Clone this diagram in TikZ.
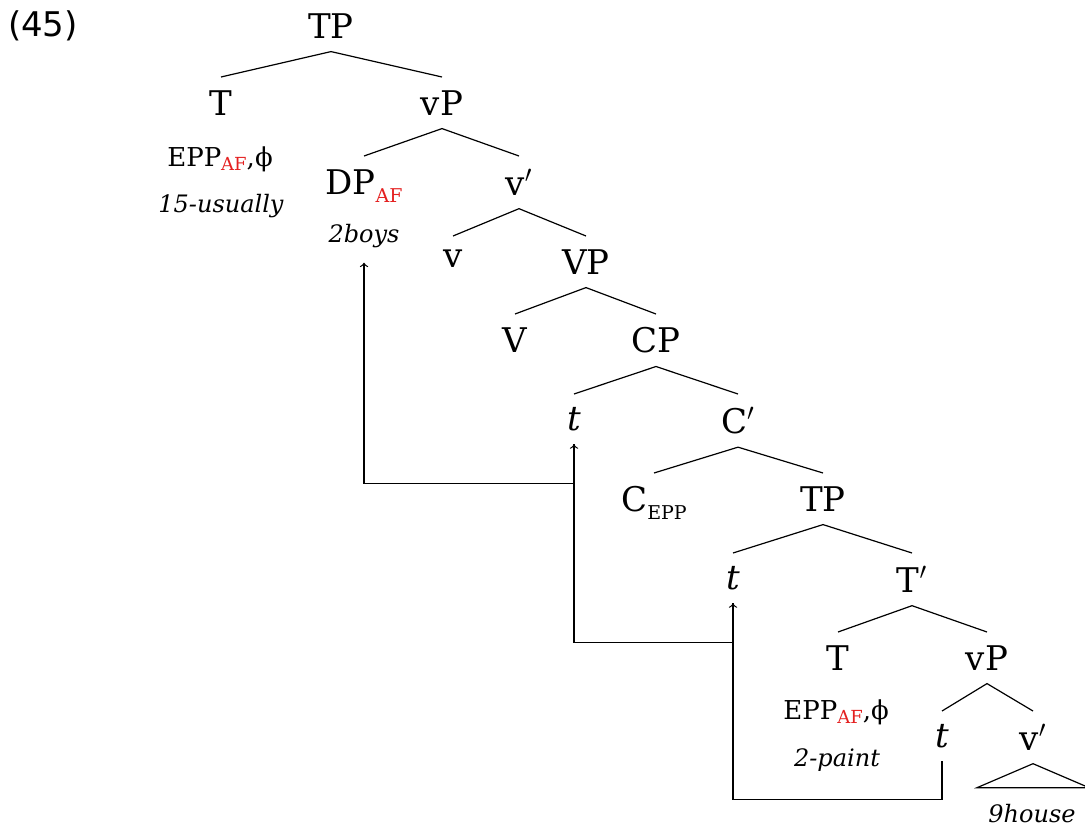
\documentclass[tikz,border=0pt]{standalone}
\usepackage{fontspec}
\usepackage{xcolor}
\setmainfont{DejaVu Serif}
\newfontfamily\exfont{DejaVu Sans}
\definecolor{afred}{RGB}{228,32,32}

% lowered labels on categories and on feature bundles
\newcommand{\catsub}[1]{\raisebox{-4pt}{\fontsize{9.5}{11}\selectfont #1}}
\newcommand{\featsub}[1]{\raisebox{-2pt}{\fontsize{9}{10}\selectfont #1}}
\newcommand{\agrAF}{\textcolor{afred}{AF}}

\tikzset{
  cat/.style={anchor=north, font=\fontsize{17}{20}\selectfont, inner xsep=0pt, inner ysep=6.5pt},
  feat/.style={anchor=base, font=\fontsize{13}{15}\selectfont, inner sep=0pt},
  gloss/.style={anchor=base, font=\fontsize{12}{14}\selectfont\itshape, inner xsep=0pt, inner ysep=7.5pt},
  branch/.style={line width=0.6pt},
  movement/.style={->, line width=0.6pt},
}

\begin{document}
\begin{tikzpicture}[x=0.5pt,y=-0.5pt]
  \useasboundingbox (0,0) rectangle (1085,829);
  \node[anchor=base, font=\exfont\fontsize{17}{20}\selectfont] (exnum) at (43,37) {(45)};

  % categories, level by level
  \node[cat] (tp) at (331,0) {TP};
  \node[cat] (thead) at (221,77) {T};
  \node[cat] (vp) at (442,77) {vP};
  \node[cat] (dp) at (364,156) {DP\catsub{\agrAF}};
  \node[cat] (vbar) at (519,156) {v$'$};
  \node[cat] (vhead) at (453,236) {v};
  \node[cat] (vpbig) at (586,236) {VP};
  \node[cat] (vbig) at (515,314) {V};
  \node[cat] (cp) at (656,314) {CP};
  \node[cat] (trace1) at (574,394) {\textit{t}};
  \node[cat] (cbar) at (738,394) {C$'$};
  \node[cat] (chead) at (654,473) {C\catsub{EPP}};
  \node[cat] (tp2) at (823,473) {TP};
  \node[cat] (trace2) at (733,553) {\textit{t}};
  \node[cat] (tbar) at (912,553) {T$'$};
  \node[cat] (thead2) at (838,632) {T};
  \node[cat] (vp2) at (987,632) {vP};
  \node[cat] (trace3) at (942,711) {\textit{t}};
  \node[cat] (vbar2) at (1033,711) {v$'$};

  % features and glosses under the heads
  \node[feat] (tfeat) at (220,166) {EPP\featsub{\agrAF},ϕ};
  \node[gloss] (tgloss) at (221,212) {15-usually};
  \node[gloss] (dpgloss) at (364,242) {2boys};
  \node[feat] (tfeat2) at (836,719) {EPP\featsub{\agrAF},ϕ};
  \node[gloss] (tgloss2) at (837,766) {2-paint};
  \node[gloss] (vgloss) at (1032,822) {9house};

  % branches
  \draw[branch] (thead.north) -- (tp.south) -- (vp.north);
  \draw[branch] (dp.north) -- (vp.south) -- (vbar.north);
  \draw[branch] (vhead.north) -- (vbar.south) -- (vpbig.north);
  \draw[branch] (vbig.north) -- (vpbig.south) -- (cp.north);
  \draw[branch] (trace1.north) -- (cp.south) -- (cbar.north);
  \draw[branch] (chead.north) -- (cbar.south) -- (tp2.north);
  \draw[branch] (trace2.north) -- (tp2.south) -- (tbar.north);
  \draw[branch] (thead2.north) -- (tbar.south) -- (vp2.north);
  \draw[branch] (trace3.north) -- (vp2.south) -- (vbar2.north);
  \draw[branch] (vbar2.south) -- ++(-56,24) -- ++(112,0) -- cycle;

  % movement arrows
  \draw[movement] (trace3.south) -- ++(0,38) -| (trace2.south);
  \draw[movement] (trace2.south) -- ++(0,39) -| (trace1.south);
  \draw[movement] (trace1.south) -- ++(0,39) -| (dpgloss.south);
\end{tikzpicture}
\end{document}
